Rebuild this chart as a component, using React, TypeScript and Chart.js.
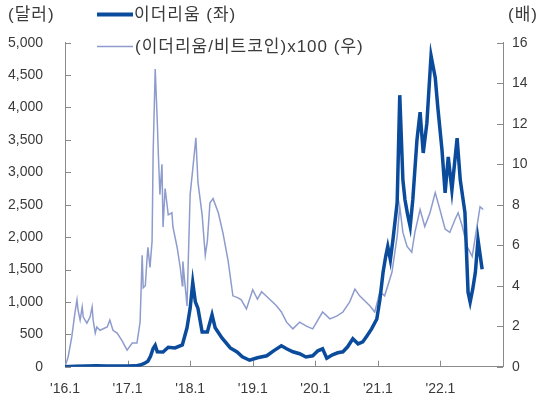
import React, { useEffect, useRef } from "react";
import { Chart, registerables } from "chart.js";

Chart.register(...registerables);

// x values are months since Jan 2016 (0 = '16.1, 84 = '23.1)
const xTickLabels = ["'16.1", "'17.1", "'18.1", "'19.1", "'20.1", "'21.1", "'22.1", ""];

const ethMonths = [0, 2, 4, 6, 8, 10, 12, 13.5, 14.4, 15.2, 15.9, 16.4, 16.9, 17.3, 17.7, 18.8, 19.8, 21.1, 22.5, 23.4, 24.0, 24.5, 25.0, 25.5, 26.3, 27.3, 28.2, 28.8, 30.1, 31.7, 33.0, 34, 35.4, 36.9, 38.7, 40, 41.5, 42.5, 43.7, 45, 46.2, 47.5, 48.5, 49.4, 50.2, 51.3, 52.3, 53.3, 54.2, 55.2, 56.2, 57.1, 57.9, 58.8, 59.8, 60.4, 61, 61.5, 61.9, 62.4, 62.9, 63.7, 64.2, 64.8, 65.2, 65.7, 66.2, 66.7, 67.5, 68.1, 68.7, 69.4, 70.2, 71, 71.5, 72.3, 72.9, 73.5, 74.2, 75.2, 75.8, 76.7, 77.3, 77.7, 78.2, 78.7, 79.2, 80];
const ethPrice = [1, 6, 10, 13, 11, 11, 9, 13, 25, 50, 85, 160, 280, 330, 230, 227, 300, 290, 336, 600, 900, 1300, 1000, 900, 535, 535, 800, 600, 445, 290, 227, 153, 100, 138, 169, 245, 322, 276, 230, 200, 150, 169, 245, 276, 130, 184, 215, 230, 307, 430, 353, 383, 475, 583, 736, 1040, 1457, 1700, 1856, 1650, 1963, 2530, 4190, 2884, 2577, 2350, 2163, 2577, 3500, 3927, 3298, 3758, 4800, 4464, 4000, 3344, 2684, 3237, 2730, 3528, 2884, 2378, 1150, 997, 1200, 1457, 1963, 1503];

const ratioMonths = [0, 0.6, 1.3, 1.9, 2.3, 2.5, 2.9, 3.3, 3.5, 4.2, 4.8, 5.2, 5.4, 5.8, 6.1, 6.7, 8.1, 8.6, 9.2, 10.0, 10.9, 11.9, 12.9, 13.8, 14.4, 14.8, 15.0, 15.4, 15.7, 15.9, 16.3, 16.7, 16.9, 17.3, 17.7, 17.9, 18.2, 18.6, 18.8, 19.2, 19.8, 20.5, 20.7, 21.5, 22.1, 22.5, 22.6, 23.4, 24.0, 24.6, 25.1, 25.5, 26.3, 26.9, 27.3, 27.8, 28.4, 29.4, 30.3, 31.3, 32.2, 33.2, 33.8, 34.8, 36, 36.9, 37.7, 39.2, 40.6, 41.5, 42.5, 43.7, 45, 46.3, 47.5, 49.4, 50.8, 52.1, 53.3, 54.6, 55.6, 56.5, 58.5, 59.4, 60.4, 61.3, 62.7, 63.7, 64.2, 64.8, 65.6, 66.5, 67.1, 68.1, 69.0, 70, 71, 71.9, 72.9, 73.8, 74.8, 75.4, 76.2, 77.1, 78.1, 79, 79.6, 80.2];
const ratioValues = [0, 0.48, 1.47, 2.65, 3.3, 2.8, 2.3, 2.95, 2.45, 2.15, 2.45, 2.95, 2.3, 1.66, 1.96, 1.8, 1.96, 2.3, 1.8, 1.66, 1.3, 0.82, 1.17, 1.17, 2.2, 5.5, 3.9, 4.0, 5.2, 5.9, 4.9, 6.2, 10.5, 14.7, 12.1, 10.5, 8.5, 10.0, 6.9, 8.8, 7.5, 7.6, 6.9, 5.9, 4.9, 4.0, 5.2, 3.0, 8.5, 10.0, 11.3, 9.1, 7.5, 5.5, 6.2, 8.1, 8.3, 7.6, 6.6, 5.2, 3.5, 3.4, 3.3, 2.85, 3.8, 3.34, 3.7, 3.34, 3.0, 2.7, 2.2, 1.87, 2.2, 2.0, 1.87, 2.7, 2.36, 2.5, 2.7, 3.2, 3.83, 3.5, 3.0, 2.7, 3.7, 3.5, 4.66, 6.43, 7.9, 6.63, 5.94, 5.65, 6.63, 7.76, 6.92, 7.6, 8.6, 7.76, 6.8, 6.63, 7.27, 7.6, 6.92, 5.94, 5.45, 6.92, 7.9, 7.76];

const seriesNames = ["이더리움 (좌)", "(이더리움/비트코인)x100 (우)"];
const leftTitle = "(달러)";
const rightTitle = "(배)";

const DARK = "#0b4b9c";
const LIGHT = "#8d9ccd";
const AXIS = "#8a8a8a";
const TEXT = "#3a3a3a";
const NUM_FONT = "'Liberation Sans', Arial, 'Noto Sans CJK KR', sans-serif";
const KR_FONT = "'Liberation Sans', Arial, 'Noto Sans CJK KR', sans-serif";

const decor = {
  id: "decor",
  beforeDatasetsDraw(chart: any) {
    const ctx = chart.ctx;
    const { left, right, bottom } = chart.chartArea;
    const sx = chart.scales.x, sy = chart.scales.y, sy1 = chart.scales.y1;
    ctx.save();
    ctx.strokeStyle = AXIS;
    ctx.lineWidth = 1;
    ctx.beginPath();
    sy.ticks.forEach((t: any) => {
      const p = Math.round(sy.getPixelForValue(t.value)) + 0.5;
      ctx.moveTo(left, p);
      ctx.lineTo(left + 6, p);
    });
    sy1.ticks.forEach((t: any) => {
      const p = Math.round(sy1.getPixelForValue(t.value)) + 0.5;
      ctx.moveTo(right, p);
      ctx.lineTo(right - 6, p);
    });
    sx.ticks.forEach((t: any) => {
      const p = Math.round(sx.getPixelForValue(t.value)) + 0.5;
      ctx.moveTo(p, bottom);
      ctx.lineTo(p, bottom - 6);
    });
    ctx.stroke();
    ctx.restore();
  },
  afterDraw(chart: any) {
    const ctx = chart.ctx;
    ctx.save();
    ctx.textBaseline = "middle";
    ctx.fillStyle = TEXT;
    ctx.font = `17px ${KR_FONT}`;
    ctx.textAlign = "left";
    try { (ctx as any).letterSpacing = "1px"; } catch (e) {}
    ctx.fillText(leftTitle, 8, 15);
    ctx.fillText(rightTitle, 508, 15);
    // legend
    ctx.lineCap = "butt";
    ctx.strokeStyle = DARK;
    ctx.lineWidth = 4;
    ctx.beginPath();
    ctx.moveTo(97, 14.5);
    ctx.lineTo(133, 14.5);
    ctx.stroke();
    ctx.strokeStyle = LIGHT;
    ctx.lineWidth = 1.5;
    ctx.beginPath();
    ctx.moveTo(97, 46.5);
    ctx.lineTo(133, 46.5);
    ctx.stroke();
    ctx.fillText(seriesNames[0], 134, 15);
    ctx.fillText(seriesNames[1], 135, 47);
    ctx.restore();
  },
};

export default function App() {
  const ref = useRef<HTMLCanvasElement | null>(null);
  useEffect(() => {
    if (!ref.current) return;
    const chart = new Chart(ref.current, {
      type: "line",
      data: {
        datasets: [
          {
            label: seriesNames[0],
            data: ethMonths.map((m, i) => ({ x: m, y: ethPrice[i] })),
            borderColor: DARK,
            borderWidth: 3.5,
            pointRadius: 0,
            tension: 0,
            yAxisID: "y",
          },
          {
            label: seriesNames[1],
            data: ratioMonths.map((m, i) => ({ x: m, y: ratioValues[i] })),
            borderColor: LIGHT,
            borderWidth: 1.5,
            pointRadius: 0,
            tension: 0,
            yAxisID: "y1",
          },
        ],
      },
      options: {
        animation: false,
        responsive: true,
        maintainAspectRatio: false,
        layout: { padding: { top: 42.7, left: 0, right: 0, bottom: 0 } },
        plugins: { legend: { display: false }, tooltip: { enabled: false } },
        scales: {
          x: {
            type: "linear",
            min: 0,
            max: 84,
            afterBuildTicks: (s: any) => {
              s.ticks = xTickLabels.map((_, i) => ({ value: i * 12 }));
            },
            ticks: {
              autoSkip: false,
              maxRotation: 0,
              padding: 14,
              color: TEXT,
              font: { size: 14, family: NUM_FONT },
              callback: (v: any) => xTickLabels[Math.round(Number(v) / 12)] ?? "",
            },
            grid: { display: false, drawTicks: false },
            border: { display: true, color: AXIS },
            afterFit: (s: any) => { s.height = 405 - 366.7; },
          },
          y: {
            position: "left",
            min: 0,
            max: 5000,
            ticks: {
              stepSize: 500,
              padding: 22,
              color: TEXT,
              font: { size: 14, family: NUM_FONT },
              callback: (v: any) => Number(v).toLocaleString("en-US"),
            },
            grid: { display: false, drawTicks: false },
            border: { display: true, color: AXIS },
            afterFit: (s: any) => { s.width = 65; },
          },
          y1: {
            position: "right",
            min: 0,
            max: 16,
            ticks: {
              stepSize: 2,
              padding: 9,
              color: TEXT,
              font: { size: 14, family: NUM_FONT },
            },
            grid: { display: false, drawTicks: false },
            border: { display: true, color: AXIS },
            afterFit: (s: any) => { s.width = 538 - 503; },
          },
        },
      },
      plugins: [decor],
    });
    return () => chart.destroy();
  }, []);
  return (
    <div style={{ position: "absolute", left: 0, top: 0, width: 538, height: 405, background: "#fff" }}>
      <canvas ref={ref} />
    </div>
  );
}
